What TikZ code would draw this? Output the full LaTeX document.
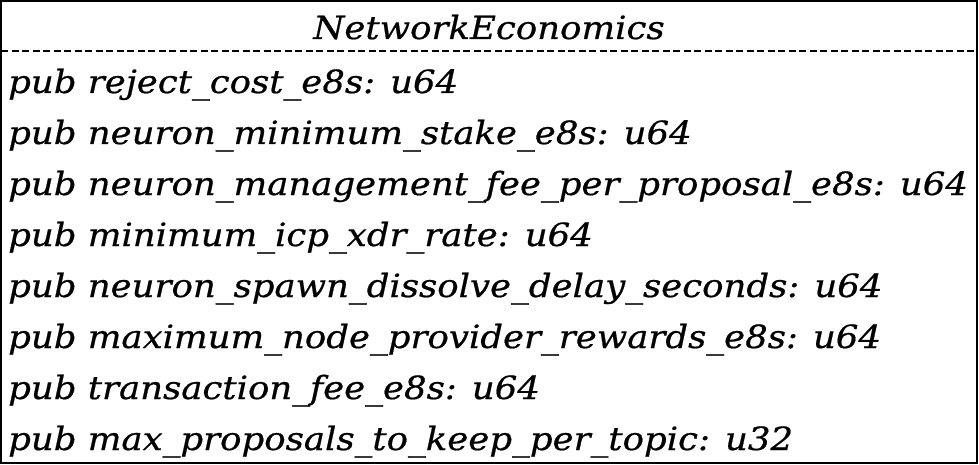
\documentclass[tikz,border=0pt]{standalone}
\usepackage{fontspec}
\setmainfont{DejaVu Serif}[FakeStretch=1.11,FakeBold=0.6]
\begin{document}
\begin{tikzpicture}[x=1pt,y=-1pt,
  frame/.style={draw=black,line width=2pt},
  sep/.style={draw=black,line width=1.5pt,dash pattern=on 7pt off 3.5pt},
  field/.style={anchor=base west,inner sep=0pt,font=\fontsize{32}{32}\selectfont\itshape},
  title/.style={anchor=base,inner sep=0pt,font=\fontsize{32}{32}\selectfont\itshape}]
\useasboundingbox (0,0) rectangle (979,465);
\fill[white] (0,0) rectangle (979,465);
\draw[frame] (1,1) rectangle (977,463);
\draw[sep] (1,51) -- (977,51);
\node[title] (name) at (489,39) {NetworkEconomics};
\node[field] (f1) at (8,93) {pub reject\_cost\_e8s: u64};
\node[field] (f2) at (8,144) {pub neuron\_minimum\_stake\_e8s: u64};
\node[field] (f3) at (8,195) {pub neuron\_management\_fee\_per\_proposal\_e8s: u64};
\node[field] (f4) at (8,246) {pub minimum\_icp\_xdr\_rate: u64};
\node[field] (f5) at (8,297) {pub neuron\_spawn\_dissolve\_delay\_seconds: u64};
\node[field] (f6) at (8,348) {pub maximum\_node\_provider\_rewards\_e8s: u64};
\node[field] (f7) at (8,399) {pub transaction\_fee\_e8s: u64};
\node[field] (f8) at (8,450) {pub max\_proposals\_to\_keep\_per\_topic: u32};
\end{tikzpicture}
\end{document}
